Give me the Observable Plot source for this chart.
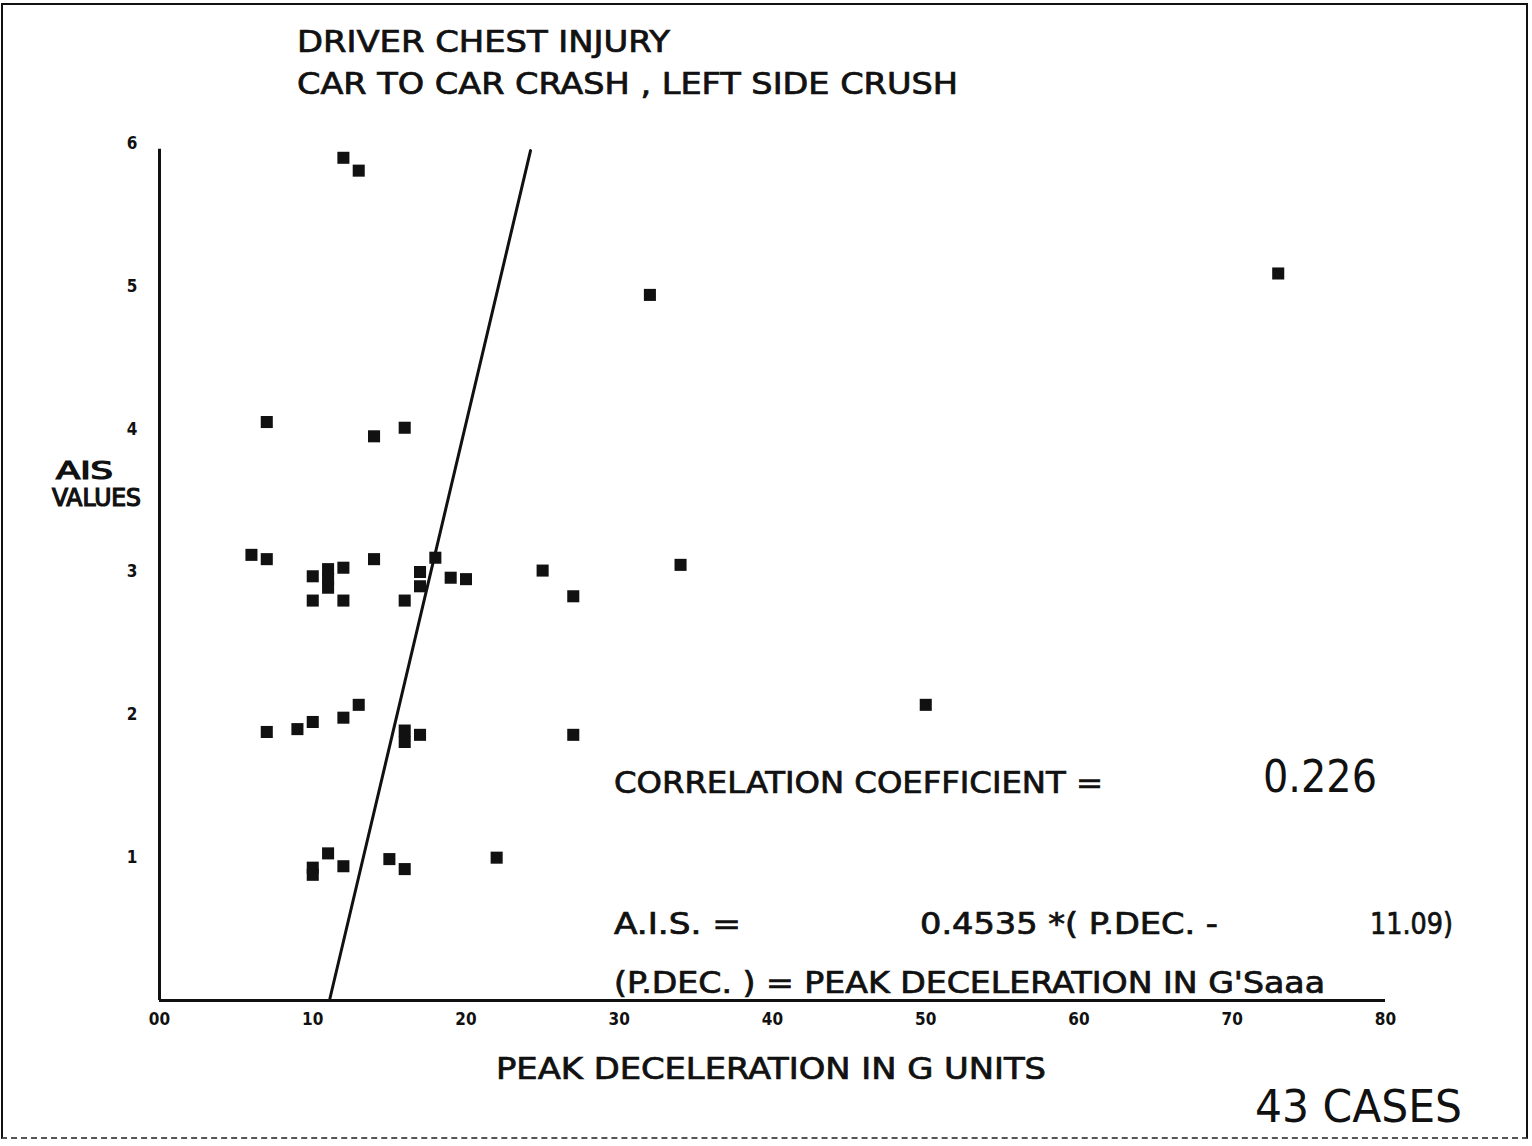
<!DOCTYPE html>
<html>
<head>
<meta charset="utf-8">
<script src="https://cdn.jsdelivr.net/npm/d3@7"></script>
<script src="https://cdn.jsdelivr.net/npm/@observablehq/plot@0.6"></script>
<style>
  html, body { margin: 0; padding: 0; background: #fff; }
  #wrap { position: relative; width: 1532px; height: 1146px; overflow: hidden; }
  #frame { position: absolute; left: 1px; top: 3px; width: 1527px; height: 1136px;
           border: 2px solid #111; border-bottom: 2px dashed #555; box-sizing: border-box; pointer-events: none; }
  svg text { font-family: "DejaVu Sans Condensed", "DejaVu Sans", sans-serif; }
</style>
</head>
<body>
<div id="wrap"><div id="frame"></div></div>
<script>
// ---- data ----
const peakDecel = [12, 13, 32, 73, 7, 14, 16, 6, 7, 10, 11, 11, 11, 12, 10, 12, 14, 16, 17, 17, 18, 19, 20, 25, 27, 34,
                   7, 9, 10, 12, 13, 16, 16, 17, 27, 50, 10, 10, 11, 12, 15, 16, 22];
const aisValues = [5.90, 5.81, 4.94, 5.09, 4.05, 3.95, 4.01, 3.12, 3.09, 2.97, 3.02, 2.95, 2.89, 3.03, 2.80, 2.80, 3.09, 2.80, 3.00, 2.90, 3.10, 2.96, 2.95, 3.01, 2.83, 3.05,
                   1.88, 1.90, 1.95, 1.98, 2.07, 1.89, 1.81, 1.86, 1.86, 2.07, 0.93, 0.88, 1.03, 0.94, 0.99, 0.92, 1.00];
const xTicks = [0, 10, 20, 30, 40, 50, 60, 70, 80];
const xTickLabels = ["00", "10", "20", "30", "40", "50", "60", "70", "80"];
const yTicks = [1, 2, 3, 4, 5, 6];
const slope = 0.4535;
const offset = 11.09;
const correlation = "0.226";
const cases = 43;

const points = peakDecel.map((x, i) => ({x, y: aisValues[i]}));
// regression line A.I.S. = slope * (P.DEC. - offset), drawn from AIS 0 to about 6
const fit = [0, 5.95].map(y => ({x: offset + y / slope, y}));

const chart = Plot.plot({
  width: 1532,
  height: 1146,
  marginLeft: 159,
  marginRight: 147,
  marginTop: 143,
  marginBottom: 146,
  style: {background: "transparent", color: "#111"},
  x: {domain: [0, 80]},
  y: {domain: [0, 6]},
  marks: [
    Plot.ruleY([0], {x1: 0, x2: 80, stroke: "#111", strokeWidth: 3}),
    Plot.ruleX([0], {y1: 0, y2: 5.96, stroke: "#111", strokeWidth: 3}),
    Plot.axisX({ticks: xTicks, tickSize: 0, tickPadding: 12, fontSize: 17, fontWeight: "bold",
                tickFormat: d => xTickLabels[xTicks.indexOf(d)], label: null}),
    Plot.axisY({ticks: yTicks, tickSize: 0, tickPadding: 22, fontSize: 17, fontWeight: "bold",
                tickFormat: d => String(d), label: null}),
    Plot.line(fit, {x: "x", y: "y", stroke: "#111", strokeWidth: 3}),
    Plot.dot(points, {x: "x", y: "y", symbol: "square", fill: "#111", r: 6.8})
  ]
});
chart.style.position = "absolute";
chart.style.left = "0px";
chart.style.top = "0px";
document.getElementById("wrap").appendChild(chart);

// ---- annotation texts ----
const svg = d3.select(chart);
const notes = [
  {t: "DRIVER CHEST INJURY", x: 297, y: 52, s: 30, w: 373},
  {t: "CAR TO CAR CRASH , LEFT SIDE CRUSH", x: 297, y: 94, s: 30, w: 661},
  {t: "AIS", x: 56, y: 479, s: 24, w: 57},
  {t: "VALUES", x: 52, y: 506, s: 24, w: 89},
  {t: "PEAK DECELERATION IN G UNITS", x: 496, y: 1079, s: 30, w: 550},
  {t: cases + " CASES", x: 1255, y: 1122, s: 44, w: 207, light: true},
  {t: "CORRELATION COEFFICIENT =", x: 614, y: 793, s: 30, w: 489},
  {t: correlation, x: 1263, y: 792, s: 44, w: 114, light: true},
  {t: "A.I.S. =", x: 614, y: 934, s: 30, w: 127},
  {t: slope + " *( P.DEC. -", x: 920, y: 934, s: 30, w: 298},
  {t: offset + ")", x: 1370, y: 934, s: 30, w: 83},
  {t: "(P.DEC. ) = PEAK DECELERATION IN G'Saaa", x: 614, y: 993, s: 30, w: 711}
];
svg.append("g").attr("text-anchor", "start").selectAll("text").data(notes).join("text")
  .attr("x", d => d.x).attr("y", d => d.y)
  .attr("font-size", d => d.s)
  .attr("fill", "#111")
  .attr("stroke", d => d.light ? "none" : "#111")
  .attr("stroke-width", d => d.s < 28 ? 1.2 : 0.7)
  .attr("textLength", d => d.w)
  .attr("lengthAdjust", "spacingAndGlyphs")
  .text(d => d.t);
</script>
</body>
</html>
